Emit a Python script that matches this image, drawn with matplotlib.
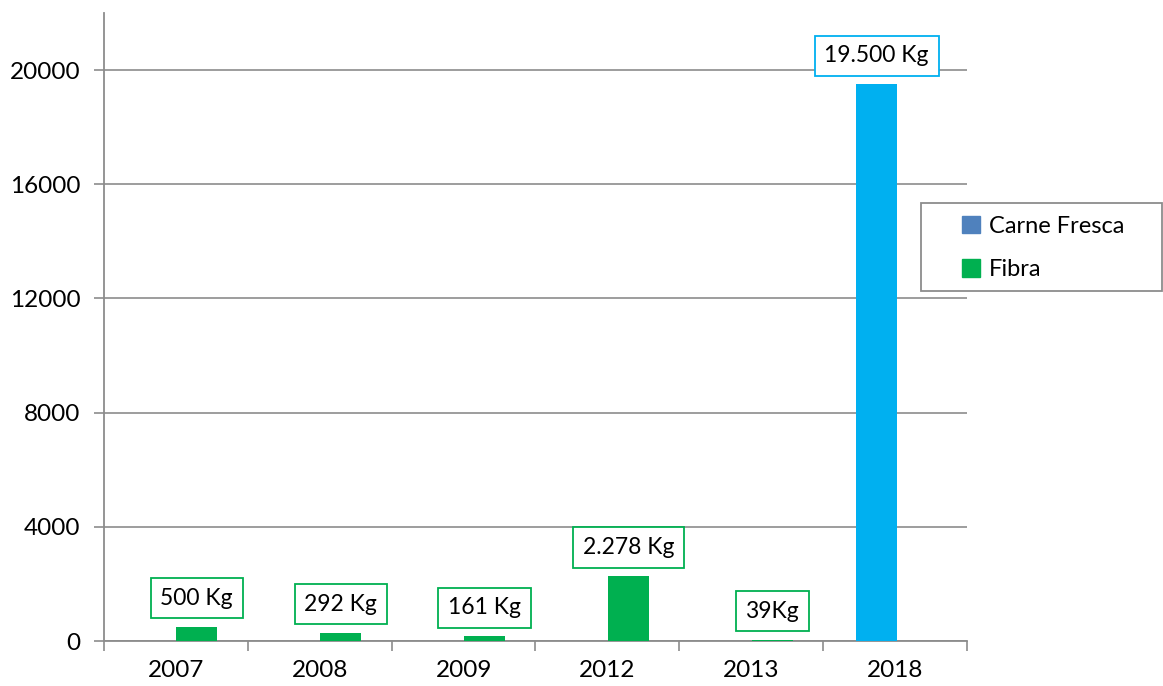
import numpy as np
import matplotlib
matplotlib.use("Agg")
import matplotlib.pyplot as plt
from matplotlib.patches import Rectangle

years = ["2007", "2008", "2009", "2012", "2013", "2018"]
carne = [0, 0, 0, 0, 0, 19500]
fibra = [500, 292, 161, 2278, 39, 0]
carne_lbl = ["", "", "", "", "", "19.500 Kg"]
fibra_lbl = ["500 Kg", "292 Kg", "161 Kg", "2.278 Kg", "39Kg", ""]

plt.rcParams["font.family"] = ["Lato", "DejaVu Sans"]
fs = 16.5
blue, green, leg_blue = "#00B0F0", "#00B050", "#4F81BD"
grey = "#8C8C8C"

W, H = 1163, 686
fig = plt.figure(figsize=(W / 100, H / 100), dpi=100)
ax = fig.add_axes([104 / W, 45 / H, 863 / W, 628 / H])

x = np.arange(len(years))
w = 0.285
b1 = ax.bar(x - 0.128, carne, w, color=blue, zorder=3)
b2 = ax.bar(x + 0.145, fibra, w, color=green, zorder=3)

for rects, lbls, col in [(b1, carne_lbl, blue), (b2, fibra_lbl, green)]:
    for r, t in zip(rects, lbls):
        if not t:
            continue
        ax.annotate(t, (r.get_x() + r.get_width() / 2, r.get_height()),
                    xytext=(0, 13), textcoords="offset points",
                    ha="center", va="bottom", fontsize=fs, zorder=5,
                    bbox=dict(boxstyle="square,pad=0.42", fc="white", ec=col, lw=1.3))

ax.set_xlim(-0.5, 5.5)
ax.set_ylim(0, 22000)
ax.set_yticks(range(0, 20001, 4000))
ax.tick_params(axis="y", length=7, width=1.2, color=grey, pad=10, labelsize=17.5)
ax.set_xticks(x)
ax.set_xticklabels(years)
ax.tick_params(axis="x", which="major", length=0, pad=14, labelsize=17.5)
ax.set_xticks(np.arange(-0.5, 6, 1), minor=True)
ax.tick_params(axis="x", which="minor", length=7, width=1.2, color=grey)
ax.grid(axis="y", color=grey, lw=1.2, zorder=0)
for s in ["top", "right"]:
    ax.spines[s].set_visible(False)
for s in ["left", "bottom"]:
    ax.spines[s].set_color(grey)
    ax.spines[s].set_linewidth(1.3)

# legend frame drawn separately so the entries can sit further in
fig.patches.append(Rectangle((921 / W, 1 - 291 / H), 241 / W, 88 / H,
                             transform=fig.transFigure, fc="white", ec=grey, lw=1.3))
h1 = Rectangle((0, 0), 1, 1, color=leg_blue)
h2 = Rectangle((0, 0), 1, 1, color=green)
leg = fig.legend([h1, h2], ["Carne Fresca", "Fibra"],
                 loc="center left", bbox_to_anchor=(962 / W, 1 - 248 / H),
                 fontsize=17, frameon=False,
                 handlelength=0.75, handleheight=0.75, handletextpad=0.4,
                 labelspacing=0.95, borderpad=0, borderaxespad=0)

fig.savefig("out.png", dpi=100)
